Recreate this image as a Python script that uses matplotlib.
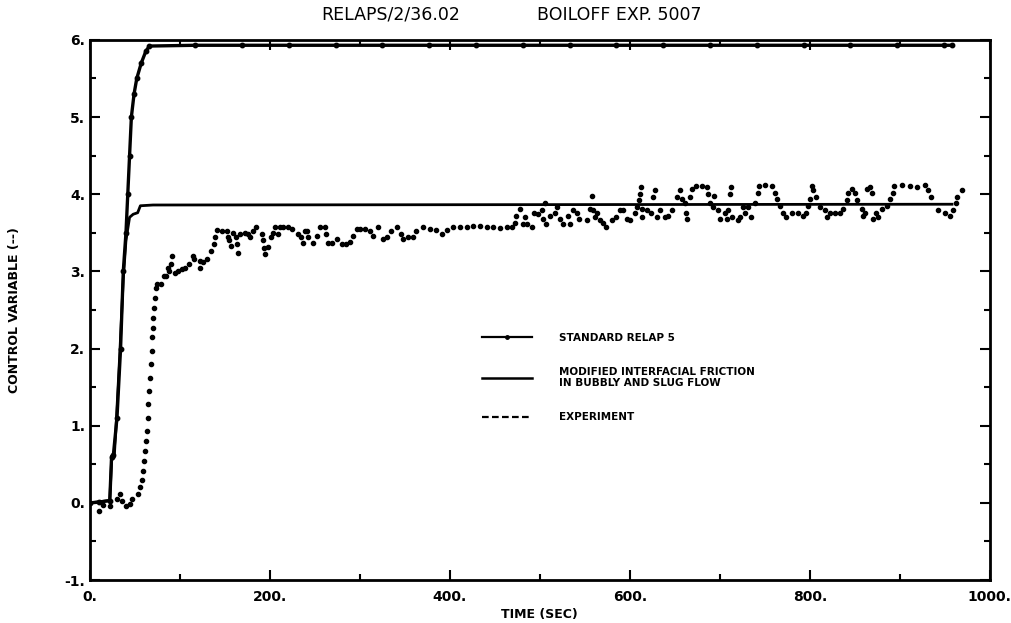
import numpy as np
import matplotlib
matplotlib.use("Agg")
import matplotlib.pyplot as plt
from matplotlib.lines import Line2D
from matplotlib.ticker import MultipleLocator, FuncFormatter

# Standard RELAP5 run
std_t = [0, 10, 22, 24, 26, 30, 34, 37, 40, 42, 44, 46, 49, 52, 57, 62, 66,
         117, 169, 221, 273, 325, 377, 429, 481, 533, 585, 637, 689, 741,
         793, 845, 897, 949, 958]
std_v = [0.0, 0.01, 0.03, 0.60, 0.62, 1.10, 2.00, 3.00, 3.50, 4.00, 4.50,
         5.00, 5.30, 5.50, 5.70, 5.85, 5.92,
         5.93, 5.93, 5.93, 5.93, 5.93, 5.93, 5.93, 5.93, 5.93, 5.93, 5.93,
         5.93, 5.93, 5.93, 5.93, 5.93, 5.93, 5.93]

# Modified interfacial friction run
mod_t = [0, 22, 24, 27, 29, 33, 37, 40, 44, 48, 53, 56, 70, 958]
mod_v = [0.0, 0.03, 0.55, 0.60, 1.00, 1.90, 2.90, 3.40, 3.70, 3.74, 3.76,
         3.85, 3.86, 3.87]

# Experiment
exp_t = [10, 15, 22, 30, 33, 36, 40, 44, 47, 53, 56, 58, 59, 60, 61, 62, 63,
         64, 65, 66, 67, 68, 68.5, 69, 70, 70.5, 71, 72, 73, 75, 79, 82, 84,
         87, 88, 90, 91, 94, 98, 102, 106, 110, 114, 116, 122, 122, 126, 130,
         135, 138, 139, 141, 147, 152, 153, 155, 157, 159, 162, 163, 164, 167,
         172, 176, 178, 181, 185, 191, 192, 193, 195, 198, 201, 203, 206, 209,
         211, 215, 220, 224, 231, 235, 237, 239, 241, 242, 248, 252, 256, 261,
         262, 264, 269, 274, 280, 284, 289, 292, 297, 300, 306, 311, 314, 320,
         326, 330, 335, 341, 346, 348, 353, 359, 362, 370, 378, 385, 391, 397,
         403, 411, 419, 426, 433, 441, 448, 456, 463, 469, 472, 474, 478, 481,
         484, 486, 491, 494, 498, 502, 503, 506, 507, 511, 517, 519, 522, 526,
         531, 534, 537, 541, 544, 552, 556, 558, 559, 561, 564, 567, 570, 574,
         580, 585, 589, 592, 597, 600, 606, 608, 610, 611, 612, 613, 614, 619,
         624, 626, 628, 630, 633, 639, 642, 647, 652, 656, 658, 661, 662, 664,
         667, 669, 674, 680, 686, 687, 689, 692, 694, 698, 700, 706, 708, 709,
         711, 712, 714, 720, 722, 726, 728, 731, 735, 739, 742, 743, 750, 758,
         761, 763, 767, 770, 774, 780, 787, 792, 796, 798, 800, 802, 803, 807,
         811, 817, 819, 822, 828, 833, 837, 841, 842, 847, 850, 852, 858, 859,
         861, 864, 867, 869, 870, 874, 876, 880, 886, 889, 892, 894, 903, 911,
         919, 928, 931, 935, 942, 950, 956, 959, 963, 964, 969]
exp_v = [-0.10, -0.03, -0.04, 0.05, 0.12, 0.02, -0.04, -0.02, 0.05, 0.12, 0.20,
         0.30, 0.41, 0.54, 0.67, 0.80, 0.93, 1.10, 1.28, 1.45, 1.62, 1.80,
         1.97, 2.15, 2.27, 2.40, 2.53, 2.66, 2.78, 2.84, 2.84, 2.94, 2.94,
         3.05, 3.00, 3.10, 3.20, 2.98, 3.00, 3.03, 3.05, 3.10, 3.20, 3.16,
         3.14, 3.05, 3.12, 3.16, 3.27, 3.36, 3.45, 3.54, 3.52, 3.52, 3.44,
         3.40, 3.33, 3.50, 3.45, 3.36, 3.24, 3.49, 3.50, 3.49, 3.44, 3.52,
         3.57, 3.49, 3.40, 3.30, 3.23, 3.32, 3.44, 3.50, 3.57, 3.48, 3.57,
         3.57, 3.57, 3.55, 3.49, 3.44, 3.37, 3.52, 3.52, 3.45, 3.37, 3.46,
         3.57, 3.57, 3.48, 3.37, 3.37, 3.42, 3.36, 3.36, 3.38, 3.46, 3.55,
         3.55, 3.55, 3.52, 3.46, 3.57, 3.42, 3.44, 3.52, 3.58, 3.49, 3.42,
         3.44, 3.45, 3.52, 3.58, 3.55, 3.54, 3.49, 3.53, 3.57, 3.57, 3.58,
         3.59, 3.59, 3.58, 3.57, 3.56, 3.57, 3.57, 3.63, 3.72, 3.81, 3.61,
         3.70, 3.61, 3.58, 3.76, 3.74, 3.79, 3.68, 3.89, 3.62, 3.72, 3.76,
         3.83, 3.68, 3.62, 3.72, 3.62, 3.80, 3.75, 3.68, 3.66, 3.81, 3.98,
         3.79, 3.70, 3.75, 3.66, 3.63, 3.58, 3.66, 3.70, 3.80, 3.79, 3.68,
         3.66, 3.75, 3.83, 3.92, 4.00, 4.09, 3.81, 3.70, 3.79, 3.75, 3.96,
         4.05, 3.70, 3.79, 3.70, 3.72, 3.79, 3.96, 4.05, 3.94, 3.88, 3.76,
         3.68, 3.96, 4.07, 4.10, 4.10, 4.09, 4.00, 3.89, 3.83, 3.98, 3.79,
         3.68, 3.75, 3.68, 3.79, 4.00, 4.09, 3.70, 3.66, 3.70, 3.83, 3.76,
         3.83, 3.70, 3.89, 4.01, 4.11, 4.12, 4.10, 4.02, 3.94, 3.85, 3.75,
         3.70, 3.76, 3.75, 3.72, 3.76, 3.85, 3.94, 4.11, 4.05, 3.96, 3.83,
         3.79, 3.70, 3.76, 3.75, 3.76, 3.81, 3.92, 4.02, 4.07, 4.01, 3.92,
         3.81, 3.72, 3.76, 4.07, 4.09, 4.01, 3.68, 3.75, 3.70, 3.81, 3.85,
         3.94, 4.02, 4.11, 4.12, 4.10, 4.09, 4.12, 4.05, 3.96, 3.79, 3.76,
         3.72, 3.79, 3.88, 3.96, 4.05]

labels = ["STANDARD RELAP 5",
          "MODIFIED INTERFACIAL FRICTION\nIN BUBBLY AND SLUG FLOW",
          "EXPERIMENT"]

fig = plt.figure(figsize=(10.11, 6.23), dpi=100)
ax = fig.add_axes([0.089, 0.069, 0.890, 0.867])

ax.plot(std_t, std_v, '-', color='black', lw=2.4, marker='o', ms=3.2)
ax.plot(mod_t, mod_v, '-', color='black', lw=2.0)
ax.plot(exp_t, exp_v, 'o', color='black', ms=3.0, ls='none')

ax.set_xlim(0, 1000)
ax.set_ylim(-1, 6)
ax.xaxis.set_major_locator(MultipleLocator(200))
ax.xaxis.set_minor_locator(MultipleLocator(100))
ax.yaxis.set_major_locator(MultipleLocator(1))
ax.yaxis.set_minor_locator(MultipleLocator(0.5))
ax.xaxis.set_major_formatter(FuncFormatter(lambda v, p: f"{int(v)}."))
ax.yaxis.set_major_formatter(FuncFormatter(lambda v, p: f"{int(v)}."))
ax.tick_params(which='both', direction='in', top=True, right=True, width=1.5)
ax.tick_params(which='major', length=7, labelsize=10)
ax.tick_params(axis='x', which='major', pad=7)
ax.tick_params(which='minor', length=4)
for lab in ax.get_xticklabels() + ax.get_yticklabels():
    lab.set_fontweight('bold')
for s in ax.spines.values():
    s.set_linewidth(2.0)

ax.set_xlabel("TIME (SEC)", fontsize=9, fontweight='bold', labelpad=3)
ax.set_ylabel("CONTROL VARIABLE (--)", fontsize=9, fontweight='bold', labelpad=31)

fig.text(0.386, 0.976, "RELAPS/2/36.02", ha='center', va='center', fontsize=12.5)
fig.text(0.613, 0.976, "BOILOFF EXP. 5007", ha='center', va='center', fontsize=12.5)

handles = [Line2D([], [], color='black', lw=1.6, marker='o', ms=2.5, markevery=[1, 2]),
           Line2D([], [], color='black', lw=1.8),
           Line2D([], [], color='black', lw=1.6, ls=(0, (3, 1.5)))]
leg = ax.legend(handles, labels, loc='upper left', bbox_to_anchor=(0.425, 0.475),
                frameon=False, handlelength=4.8, handletextpad=2.6,
                labelspacing=2.3, prop={'size': 7.5, 'weight': 'bold'})

fig.savefig("out.png", dpi=100)
